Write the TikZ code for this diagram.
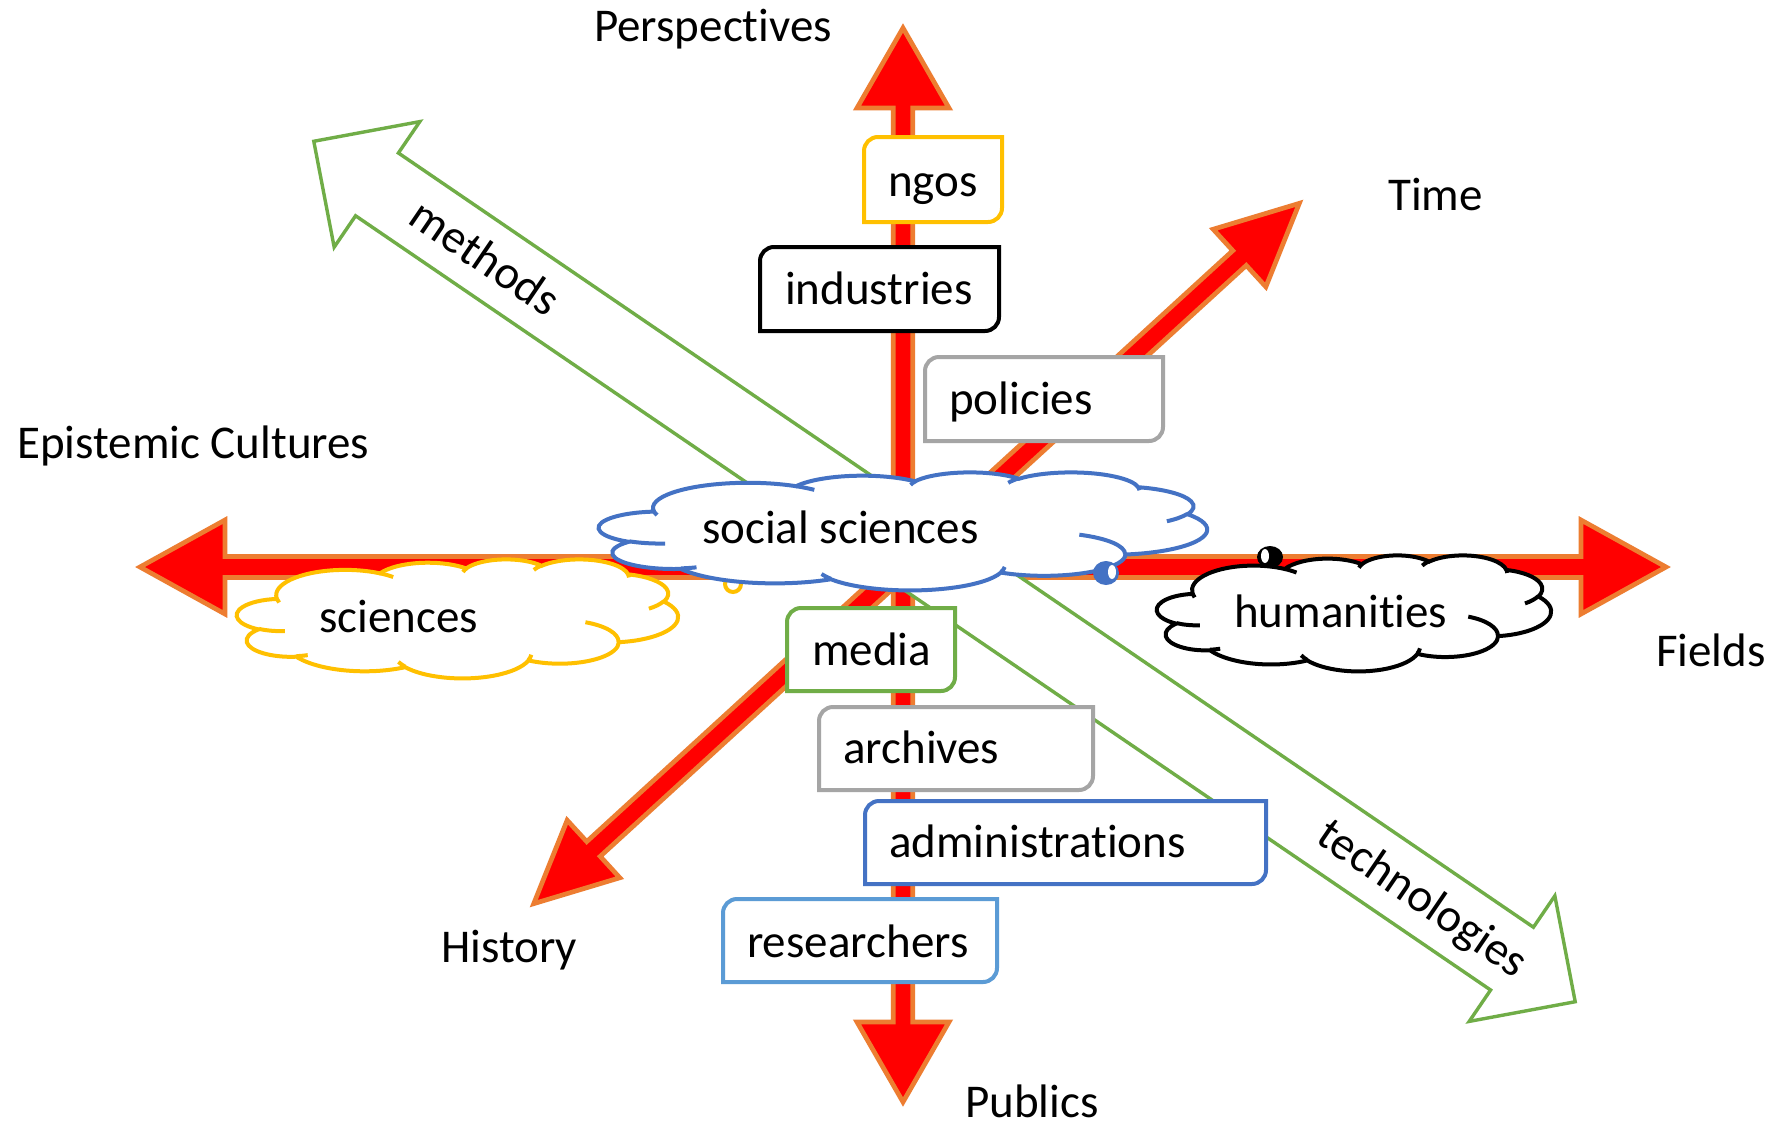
\documentclass[tikz,border=0pt]{standalone}
\usepackage{fontspec}
\setmainfont{Carlito}[Ligatures={NoCommon,NoDiscretionary,NoContextual}]
\definecolor{ared}{HTML}{FF0000}
\definecolor{aorange}{HTML}{ED7D31}
\definecolor{agreen}{HTML}{70AD47}
\definecolor{ablue}{HTML}{4472C4}
\definecolor{agold}{HTML}{FFC000}
\definecolor{agray}{HTML}{A5A5A5}
\definecolor{alblue}{HTML}{5B9BD5}

% visual (polar) angle -> parametric angle of an ellipse
\pgfmathdeclarefunction{cpar}{3}{\begingroup\pgfmathparse{atan2((#1)*sin(#3),(#2)*cos(#3))}\pgfmathsmuggle\pgfmathresult\endgroup}
\pgfmathdeclarefunction{cdel}{4}{\begingroup\pgfmathparse{cpar(#1,#2,(#3)+(#4))-cpar(#1,#2,#3)}\let\cdtmp\pgfmathresult\pgfmathparse{\cdtmp+(\cdtmp<0)*360}\pgfmathsmuggle\pgfmathresult\endgroup}
\newcommand\addarc[4]{%
  \pgfmathsetmacro\cA{cpar(#1,#2,#3)}%
  \pgfmathsetmacro\cD{cdel(#1,#2,#3,#4)}%
  \xdef\cpth{\cpth arc[x radius=#1,y radius=#2,start angle=\cA,delta angle=\cD]}}
\newcommand\addmove[2]{\xdef\cpth{\cpth (#1,#2)}}

% Office cloud outline (units of 1/432 of the box)
\gdef\cpth{(39,143.7)}
\addarc{67.53}{91.90}{-190.48748}{123.78053}
\addarc{53.33}{72.67}{-144.10238}{89.94523}
\addarc{43.65}{59.45}{-145.80792}{99.72302}
\addarc{48.57}{65.95}{-130.98607}{117.24173}
\addarc{53.33}{72.73}{-78.70888}{109.02692}
\addarc{67.75}{92.20}{-46.26725}{130.269}
\addarc{57.85}{78.67}{0.62502}{114.03333}
\addarc{67.52}{92.15}{22.4516}{115.17255}
\addarc{77.20}{105.43}{66.24263}{75.71102}
\addarc{43.60}{59.18}{-274.94208}{146.73557}
\addarc{43.45}{59.45}{-246.8285}{152.51885}
\global\let\cloudmain\cpth
\gdef\cpth{}
\addmove{46.93}{261.77}\addarc{43.45}{59.45}{86.742}{26.4295}
\addmove{69.28}{348.99}\addarc{43.60}{59.18}{73.61047}{11.44747}
\addmove{164.78}{390.90}\addarc{67.52}{92.15}{137.62415}{14.0811}
\addmove{288.27}{347.51}\addarc{67.52}{92.15}{6.45327}{15.99835}
\addmove{341.29}{229.54}\addarc{57.85}{78.67}{-70.29235}{70.91737}
\addmove{417.98}{153.54}\addarc{53.33}{72.73}{30.31803}{27.7515}
\addmove{383.24}{54.26}\addarc{48.57}{65.95}{-13.74433}{14.8589}
\addmove{290.78}{39.52}\addarc{48.57}{65.95}{-149.18145}{18.19537}
\addmove{221.41}{47.20}\addarc{43.65}{59.45}{-163.49427}{17.68635}
\addmove{140.00}{51.92}\addarc{67.53}{91.90}{-66.70695}{12.31935}
\addmove{41.27}{157.89}\addarc{67.53}{91.90}{157.65435}{11.85817}
\global\let\cloudhint\cpth

\tikzset{
  redarrow/.style={fill=ared,draw=aorange,line width=4.7,line join=miter},
  greenarrow/.style={fill=white,draw=agreen,line width=3.4,line join=miter},
  boxline/.style={line width=4,fill=white},
  cloudline/.style={line width=4},
  lbl/.style={font=\fontsize{47}{56}\selectfont,inner sep=0pt,anchor=base west,text=black},
}

% double block arrow: centre x, centre y, angle, half length, head length, head half width, shaft half width
\newcommand\blockarr[8]{%
  \begin{scope}[shift={(#1,#2)},rotate=#3]
    \draw[#8] (-#4,0) -- (-#4+#5,#6) -- (-#4+#5,#7) -- (#4-#5,#7) -- (#4-#5,#6) -- (#4,0)
      -- (#4-#5,-#6) -- (#4-#5,-#7) -- (-#4+#5,-#7) -- (-#4+#5,-#6) -- cycle;
  \end{scope}}
% box with two rounded diagonal corners: x0 y0 x1 y1 colour
\newcommand\dbox[5]{%
  \draw[boxline,draw=#5] (#1,#4) -- (#1,#2+14) arc[start angle=180,end angle=270,radius=14]
    -- (#3,#2) -- (#3,#4-14) arc[start angle=0,end angle=90,radius=14] -- cycle;}
% office cloud in box x0 y0 x1 y1, colour
\newcommand\officecloud[5]{%
  \begin{scope}[shift={(#1,#2)},xscale={(#3-#1)/432},yscale={(#4-#2)/432}]
    \draw[cloudline,draw=#5,fill=white] \cloudmain -- cycle;
    \draw[cloudline,draw=#5] \cloudhint;
  \end{scope}}

\begin{document}
\begin{tikzpicture}[x=1pt,y=-1pt]
\useasboundingbox[fill=white] (0,0) rectangle (1781,1128);

% red axes
\blockarr{903}{567}{0}{763}{85}{47}{10.5}{redarrow}
\blockarr{903}{565}{90}{537}{80}{46}{9.8}{redarrow}
\blockarr{916.5}{553.5}{42.45}{518.8}{81}{39}{10}{redarrow}

% green double arrow (methods / technologies)
\blockarr{944.5}{571.5}{-34.3}{763.5}{76.5}{76}{38}{greenarrow}

% clouds
\officecloud{237}{559}{678}{678}{agold}
\draw[cloudline,draw=agold,fill=white] (733,584) circle[radius=8];
\officecloud{1157}{555}{1551}{671}{black}
\fill[black] (1270,557) ellipse[x radius=13, y radius=11];
\fill[white] (1265,556) ellipse[x radius=4, y radius=7];
\officecloud{599}{472}{1207}{590}{ablue}
\fill[ablue] (1106,573) ellipse[x radius=13, y radius=12];
\fill[white] (1112,572) ellipse[x radius=4, y radius=7];

\node[lbl] (socsci) at (702,543) {social sciences};
\node[lbl] (human) at (1234,627) {humanities};
\node[lbl] (sci) at (319,632) {sciences};

% boxes
\dbox{864}{137}{1002}{222}{agold}
\node[lbl] (ngos) at (888,196) {ngos};
\dbox{760}{247}{999}{331}{black}
\node[lbl] (industries) at (785,304) {industries};
\dbox{925}{357}{1163}{441}{agray}
\node[lbl] (policies) at (949,414) {policies};
\dbox{787}{608}{955}{691}{agreen}
\node[lbl] (media) at (812,665) {media};
\dbox{819}{707}{1093}{790}{agray}
\node[lbl] (archives) at (843,763) {archives};
\dbox{865}{801}{1266}{884}{ablue}
\node[lbl] (admin) at (889,857) {administrations};
\dbox{723}{899}{997}{982}{alblue}
\node[lbl] (researchers) at (747,957) {researchers};

% arrow labels
\node[lbl,anchor=base,rotate=-34.3] (methods) at (476.5,270.4) {methods};
\node[lbl,anchor=base,rotate=-34.3] (techno) at (1414.5,910.4) {technologies};

% axis labels
\node[lbl] (persp) at (594,41) {Perspectives};
\node[lbl] (time) at (1388,210) {Time};
\node[lbl] (epi) at (17,458) {Epistemic Cultures};
\node[lbl] (fields) at (1656,666) {Fields};
\node[lbl] (history) at (441,962) {History};
\node[lbl] (publics) at (965,1117) {Publics};
\end{tikzpicture}
\end{document}
